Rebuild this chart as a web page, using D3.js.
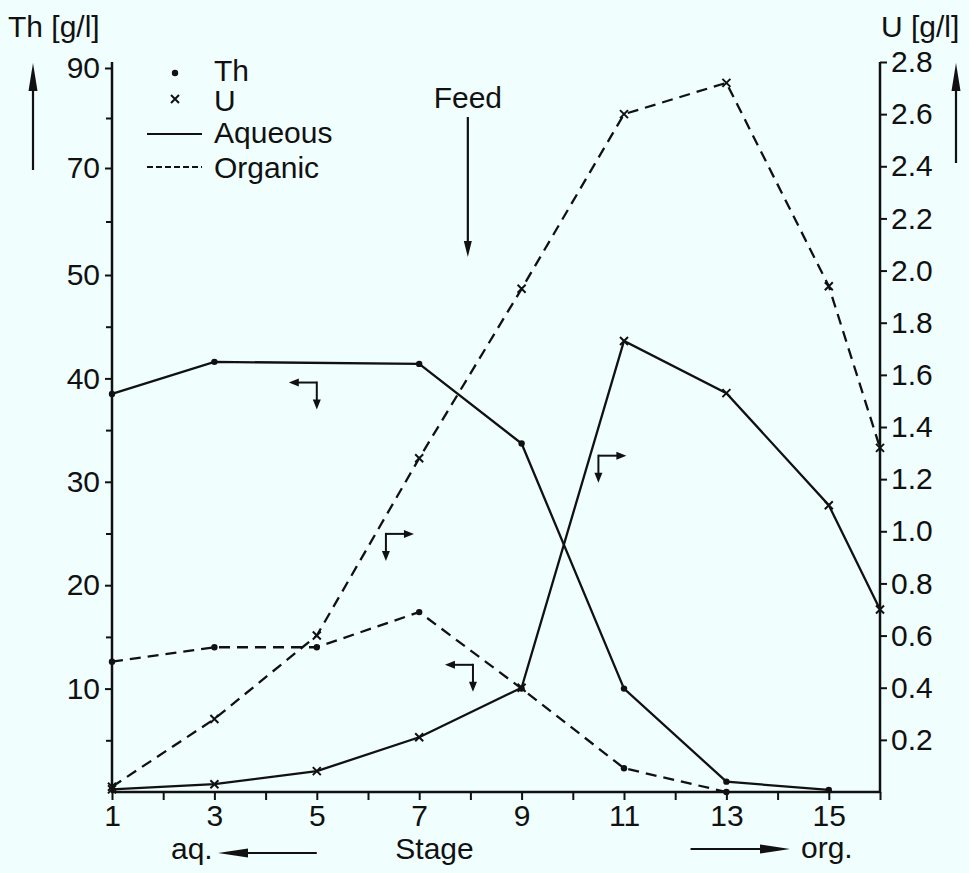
<!DOCTYPE html>
<html><head><meta charset="utf-8">
<script src="https://cdn.jsdelivr.net/npm/d3@7/dist/d3.min.js"></script>
<style>
body{margin:0;background:#f0fefe;}
svg{display:block;}
text{font-family:"Liberation Sans",Arial,Helvetica,sans-serif;fill:#111;}
</style>
</head><body>
<svg id="chart" width="969" height="873"></svg>
<script>
// ---- data ----
const thAqStages  = [1, 3, 7, 9, 11, 13, 15];
const thAqValues  = [38.5, 41.6, 41.4, 33.7, 10.0, 1.0, 0.2];
const thOrgStages = [1, 3, 5, 7, 9, 11, 13];
const thOrgValues = [12.6, 14.0, 14.0, 17.4, 10.0, 2.3, 0.0];
const uAqStages   = [1, 3, 5, 7, 9, 11, 13, 15, 16];
const uAqValues   = [0.01, 0.03, 0.08, 0.21, 0.40, 1.73, 1.53, 1.10, 0.70];
const uOrgStages  = [1, 3, 5, 7, 9, 11, 13, 15, 16];
const uOrgValues  = [0.02, 0.28, 0.60, 1.28, 1.93, 2.60, 2.72, 1.94, 1.32];
const thTickValues = [10, 20, 30, 40, 50, 70, 90];
const thMinorTicks = [5, 15, 25, 35, 45, 60, 80];
const uTickValues  = [0.2, 0.4, 0.6, 0.8, 1.0, 1.2, 1.4, 1.6, 1.8, 2.0, 2.2, 2.4, 2.6, 2.8];
const stageTicks   = [1,2,3,4,5,6,7,8,9,10,11,12,13,14,15,16];
const legendItems  = ["Th", "U", "Aqueous", "Organic"];
// bent arrows (annotation), in data coordinates
const bentArrows = [
  {stage: 5.0,  value: 39.6, axis: "th", dir: -1},
  {stage: 6.35, value: 0.99, axis: "u",  dir: 1},
  {stage: 8.05, value: 12.3, axis: "th", dir: -1},
  {stage: 10.5, value: 1.29, axis: "u",  dir: 1}
];
const feedStage = 7.95;

const svg = d3.select("#chart");
const ink = "#111";
const FS = 30;

const x = d3.scaleLinear().domain([1, 16]).range([112, 880]);
const yTh = d3.scaleLinear().domain([0, 50, 70, 90]).range([792, 275, 168, 68]);
const yU = d3.scaleLinear().domain([0, 2.8]).range([792, 62]);

// ---- helpers ----
function arrow(g, x1, y1, x2, y2, headLen, headW, sw) {
  const dx = x2 - x1, dy = y2 - y1, L = Math.hypot(dx, dy);
  const ux = dx / L, uy = dy / L;
  const bx = x2 - ux * headLen, by = y2 - uy * headLen;
  g.append("line").attr("x1", x1).attr("y1", y1).attr("x2", bx + ux * 2).attr("y2", by + uy * 2)
    .attr("stroke", ink).attr("stroke-width", sw);
  g.append("polygon")
    .attr("points", [[x2, y2], [bx - uy * headW / 2, by + ux * headW / 2], [bx + uy * headW / 2, by - ux * headW / 2]].map(p => p.join(",")).join(" "))
    .attr("fill", ink);
}

// ---- axes ----
const axG = svg.append("g");
axG.append("g").attr("transform", `translate(${x.range()[0]},0)`)
  .call(d3.axisLeft(yTh).tickValues(thTickValues).tickSize(7).tickPadding(5).tickFormat(d3.format("d")));
axG.append("g").attr("transform", `translate(${x.range()[0]},0)`)
  .call(d3.axisLeft(yTh).tickValues(thMinorTicks).tickSize(6).tickFormat(""));
axG.append("g").attr("transform", `translate(${x.range()[1]},0)`)
  .call(d3.axisRight(yU).tickValues(uTickValues).tickSize(7).tickPadding(4).tickFormat(d3.format(".1f")));
axG.append("g").attr("transform", `translate(0,${yU.range()[0]})`)
  .call(d3.axisBottom(x).tickValues(stageTicks).tickSize(8).tickPadding(5).tickFormat(d => d % 2 ? d : ""));
axG.selectAll(".domain").remove();
axG.selectAll(".tick line").attr("stroke", ink).attr("stroke-width", 2);
axG.selectAll(".tick text").attr("font-size", FS).attr("fill", ink)
  .style("font-family", '"Liberation Sans",Arial,sans-serif');
axG.append("line").attr("x1", x(1)).attr("x2", x(1)).attr("y1", yU(2.8)).attr("y2", yU(0) + 1).attr("stroke", ink).attr("stroke-width", 2.5);
axG.append("line").attr("x1", x(16)).attr("x2", x(16)).attr("y1", yU(2.8)).attr("y2", yU(0) + 1).attr("stroke", ink).attr("stroke-width", 2.5);
axG.append("line").attr("x1", x(1) - 1).attr("x2", x(16) + 1).attr("y1", yU(0)).attr("y2", yU(0)).attr("stroke", ink).attr("stroke-width", 2.5);

// ---- series ----
function series(stages, values, yScale, dashed, marker) {
  const pts = stages.map((s, i) => [x(s), yScale(values[i])]);
  svg.append("path").attr("d", d3.line()(pts)).attr("fill", "none").attr("stroke", ink)
    .attr("stroke-width", 2.3).attr("stroke-dasharray", dashed ? "11,7" : null);
  const g = svg.append("g");
  pts.forEach(p => {
    if (marker === "dot") {
      g.append("circle").attr("cx", p[0]).attr("cy", p[1]).attr("r", 3.2).attr("fill", ink);
    } else {
      const s = 4;
      g.append("path").attr("d", `M${p[0]-s},${p[1]-s}L${p[0]+s},${p[1]+s}M${p[0]-s},${p[1]+s}L${p[0]+s},${p[1]-s}`)
        .attr("stroke", ink).attr("stroke-width", 2);
    }
  });
}
series(thAqStages, thAqValues, yTh, false, "dot");
series(thOrgStages, thOrgValues, yTh, true, "dot");
series(uAqStages, uAqValues, yU, false, "x");
series(uOrgStages, uOrgValues, yU, true, "x");

// ---- legend ----
const lg = svg.append("g");
lg.append("circle").attr("cx", 175).attr("cy", 73).attr("r", 3.2).attr("fill", ink);
lg.append("path").attr("d", "M171,95L179,103M171,103L179,95").attr("stroke", ink).attr("stroke-width", 2);
lg.append("line").attr("x1", 147).attr("x2", 202).attr("y1", 134).attr("y2", 134).attr("stroke", ink).attr("stroke-width", 2);
lg.append("line").attr("x1", 147).attr("x2", 202).attr("y1", 167).attr("y2", 167).attr("stroke", ink).attr("stroke-width", 2).attr("stroke-dasharray", "6,3");
const legendY = [81, 111, 143, 178];
legendItems.forEach((t, i) => lg.append("text").attr("x", 214).attr("y", legendY[i]).attr("font-size", FS).text(t));

// ---- axis titles & arrows ----
svg.append("text").attr("x", 8).attr("y", 37).attr("font-size", FS).text("Th [g/l]");
svg.append("text").attr("x", 881).attr("y", 37).attr("font-size", FS).text("U [g/l]");
const ag = svg.append("g");
arrow(ag, 33, 170, 33, 63, 28, 9, 2.2);
arrow(ag, 956, 163, 956, 63, 28, 9, 2.2);
svg.append("text").attr("x", x(feedStage)).attr("y", 108).attr("text-anchor", "middle").attr("font-size", FS).text("Feed");
arrow(ag, x(feedStage), 117, x(feedStage), 257, 16, 8, 2.2);
svg.append("text").attr("x", x(7.3)).attr("y", 859).attr("text-anchor", "middle").attr("font-size", FS).text("Stage");
svg.append("text").attr("x", 171).attr("y", 859).attr("font-size", FS).text("aq.");
arrow(ag, x(5.0), 853, 218, 853, 30, 9, 2);
svg.append("text").attr("x", 801).attr("y", 858).attr("font-size", FS).text("org.");
arrow(ag, x(12.3), 849, 790, 849, 30, 9, 2);

// bent arrows
bentArrows.forEach(b => {
  const cx = x(b.stage), cy = (b.axis === "th" ? yTh : yU)(b.value);
  const g = svg.append("g");
  arrow(g, cx, cy, cx + b.dir * 28, cy, 10, 8, 2);
  arrow(g, cx, cy - 1, cx, cy + 27, 10, 8, 2);
});
</script>
</body></html>
